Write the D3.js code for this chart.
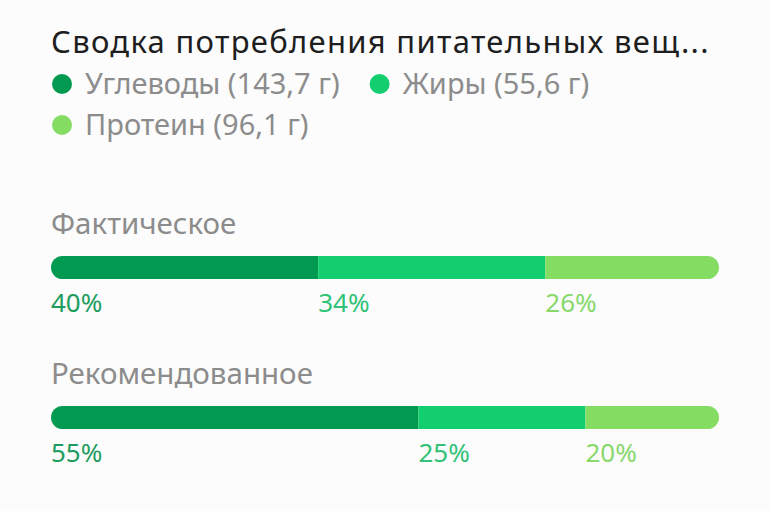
<!DOCTYPE html>
<html lang="ru">
<head>
    <meta charset="UTF-8">
    <title>Сводка потребления питательных веществ</title>
    <script src="https://d3js.org/d3.v7.min.js"></script>
    <style>
        html, body { margin: 0; padding: 0; background: #fcfcfc; }
        svg { display: block; font-family: "Noto Sans", sans-serif; }
    </style>
</head>
<body>
    <div id="chart"></div>

    <script>
        // data
        const titleText = "Сводка потребления питательных веществ";
        const nutrients = ["Углеводы", "Жиры", "Протеин"];
        const grams = [143.7, 55.6, 96.1];
        const rowNames = ["Фактическое", "Рекомендованное"];
        const actualPct = [40, 34, 26];
        const recommendedPct = [55, 25, 20];
        const colors = ["#019a50", "#13ce6e", "#84dc63"];
        const labelColors = ["#1d9c5e", "#30c277", "#88d86c"];

        const width = 770, height = 511;
        const left = 51, right = 719;

        const svg = d3.select("#chart")
            .append("svg")
            .attr("width", width)
            .attr("height", height);

        // title, cut off with an ellipsis like the app does
        const title = svg.append("text")
            .attr("x", left)
            .attr("y", 53)
            .attr("fill", "#1e1e1e")
            .style("font-size", "31px")
            .style("letter-spacing", "1.3px")
            .text(titleText);

        const maxTitle = 672;
        if (title.node().getComputedTextLength() > maxTitle) {
            let t = titleText;
            while (t.length > 0) {
                t = t.slice(0, -1);
                title.text(t.trimEnd() + "...");
                if (title.node().getComputedTextLength() <= maxTitle) break;
            }
        }

        // legend, wraps onto a new line when it runs out of room
        const fmt = v => d3.format(".1f")(v).replace(".", ",");
        const legend = svg.append("g");
        let lx = 62, ly = 84;
        nutrients.forEach(function(name, i) {
            const item = legend.append("g");
            item.append("circle")
                .attr("r", 10)
                .attr("fill", colors[i]);
            const label = item.append("text")
                .attr("x", 23)
                .attr("y", 10)
                .attr("fill", "#8c8c8c")
                .style("font-size", "29px")
                .text(name + " (" + fmt(grams[i]) + " г)");
            const w = 23 + label.node().getComputedTextLength();
            if (lx > 62 && lx + w > right) {
                lx = 62;
                ly += 41;
            }
            item.attr("transform", "translate(" + lx + "," + ly + ")");
            lx += w + 40;
        });

        // stacked bars
        const x = d3.scaleLinear().domain([0, 100]).range([left, right]);
        const rowY = d3.scalePoint().domain(rowNames).range([256, 406]);
        const barH = 23;

        const rows = [actualPct, recommendedPct];

        rowNames.forEach(function(rowName, r) {
            const y0 = rowY(rowName);
            const g = svg.append("g");

            g.append("text")
                .attr("x", left)
                .attr("y", y0 - 22)
                .attr("fill", "#8c8c8c")
                .style("font-size", "29.5px")
                .text(rowName);

            const clipId = "clip" + r;
            svg.append("clipPath")
                .attr("id", clipId)
                .append("rect")
                .attr("x", x(0))
                .attr("y", y0)
                .attr("width", x(100) - x(0))
                .attr("height", barH)
                .attr("rx", barH / 2)
                .attr("ry", barH / 2);

            let acc = 0;
            const segs = rows[r].map(function(v) {
                const s = { start: acc, value: v };
                acc += v;
                return s;
            });

            g.append("g")
                .attr("clip-path", "url(#" + clipId + ")")
                .selectAll("rect")
                .data(segs)
                .enter()
                .append("rect")
                .attr("x", d => x(d.start))
                .attr("y", y0)
                .attr("width", d => x(d.start + d.value) - x(d.start))
                .attr("height", barH)
                .attr("fill", (d, i) => colors[i]);

            g.selectAll(".pct")
                .data(segs)
                .enter()
                .append("text")
                .attr("class", "pct")
                .attr("x", d => x(d.start))
                .attr("y", y0 + 56)
                .attr("fill", (d, i) => labelColors[i])
                .style("font-size", "26px")
                .text(d => d.value + "%");
        });
    </script>
</body>
</html>
